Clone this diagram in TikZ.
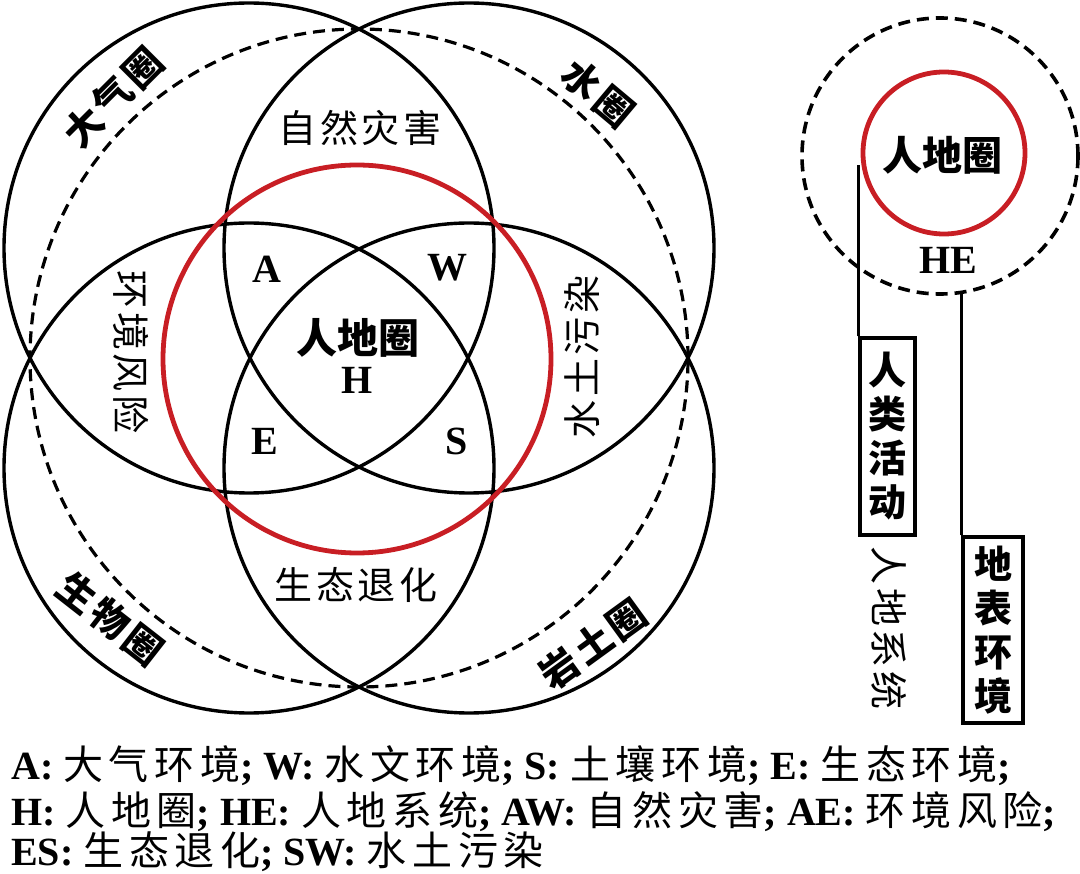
\documentclass[tikz,border=0pt]{standalone}
\usepackage{fontspec}
\setmainfont{Liberation Serif}
\newfontfamily\cjk{Noto Sans CJK SC}
\newfontfamily\cjkls[LetterSpace=10]{Noto Sans CJK SC}
\newfontfamily\cjklg[LetterSpace=14]{Noto Sans CJK SC}
\definecolor{hred}{RGB}{200,30,36}
\newcommand{\mylat}[1]{{\bfseries #1}}
\newcommand{\myhan}[1]{{\cjklg #1}}
\begin{document}
\begin{tikzpicture}[x=1pt,y=-1pt,
  ring/.style={draw=black, line width=3.4pt},
  redring/.style={draw=hred, line width=4.8pt},
  dashring/.style={draw=black, line width=3.2pt, dash pattern=on 12pt off 7pt},
  sphere/.style={font=\cjkls\bfseries\fontsize{38}{38}\selectfont, inner sep=0pt},
  zone/.style={font=\cjkls\fontsize{38}{38}\selectfont, inner sep=0pt},
  letter/.style={font=\bfseries\fontsize{40}{40}\selectfont, inner sep=0pt},
  vbox/.style={draw, line width=3.2pt, inner sep=0pt, align=center, font=\cjk\bfseries\fontsize{38}{44}\selectfont},
  legend/.style={anchor=west, inner sep=0pt, font=\fontsize{40}{40}\selectfont}
]
\useasboundingbox (0,0) rectangle (1080,874);
% main Venn diagram
\draw[dashring] (359,358) circle[radius=329pt];
\draw[ring] (249,248) circle[radius=245pt];
\draw[ring] (469,248) circle[radius=245pt];
\draw[ring] (249,468) circle[radius=245pt];
\draw[ring] (469,468) circle[radius=245pt];
\draw[redring] (357,359) circle[radius=194pt];
% sphere names
\node[sphere, rotate=45] (atm) at (113,97) {大气圈};
\node[sphere, rotate=-40] (hyd) at (598,93) {水圈};
\node[sphere, rotate=-38] (bio) at (110,619) {生物圈};
\node[sphere, rotate=36] (lit) at (593,644) {岩土圈};
% overlap names
\node[zone] (aw) at (360,128) {自然灾害};
\node[zone, rotate=-90] (ae) at (131,352) {环境风险};
\node[zone, rotate=90] (sw) at (582,357) {水土污染};
\node[zone] (es) at (356,585) {生态退化};
% letters
\node[letter] (la) at (267,269) {A};
\node[letter] (lw) at (447,268) {W};
\node[letter] (le) at (265,441) {E};
\node[letter] (ls) at (457,441) {S};
\node[sphere, font=\cjk\bfseries\fontsize{41}{41}\selectfont] (hl) at (358,338) {人地圈};
\node[letter] (lh) at (357,380) {H};
% right side
\node[circle, minimum size=276pt, inner sep=0pt, draw=black, line width=3.6pt, dash pattern=on 12pt off 7pt] (dc) at (940,156) {};
\node[circle, minimum size=162pt, inner sep=0pt, draw=hred, line width=4.8pt] (rc) at (944,153) {};
\node[sphere, font=\cjk\bfseries\fontsize{40}{40}\selectfont] (rh) at (942,155) {人地圈};
\node[letter] (he) at (948,260) {HE};
\node[vbox, minimum width=55pt, minimum height=197pt] (hum) at (887.5,436.5) {人\\类\\活\\动};
\node[vbox, minimum width=60pt, minimum height=186pt] (env) at (993,630) {地\\表\\环\\境};
\node[zone, rotate=-90] (hes) at (889,628) {人地系统};
\coordinate (l1) at (860,165);
\coordinate (l2) at (964,292);
\draw[line width=3.2pt] (hum.north west) -- (hum.north west |- l1);
\draw[line width=3.2pt] (env.north west) -- (env.north west |- l2);
% legend
\node[legend] (r1) at (11,766) {\mylat{A:} \myhan{大气环境}\mylat{;} \mylat{W:} \myhan{水文环境}\mylat{;} \mylat{S:} \myhan{土壤环境}\mylat{;} \mylat{E:} \myhan{生态环境}\mylat{;}};
\node[legend] (r2) at (11,812) {\mylat{H:} \myhan{人地圈}\mylat{;} \mylat{HE:} \myhan{人地系统}\mylat{;} \mylat{AW:} \myhan{自然灾害}\mylat{;} \mylat{AE:} \myhan{环境风险}\mylat{;}};
\node[legend] (r3) at (11,852) {\mylat{ES:} \myhan{生态退化}\mylat{;} \mylat{SW:} \myhan{水土污染}};
\end{tikzpicture}
\end{document}
